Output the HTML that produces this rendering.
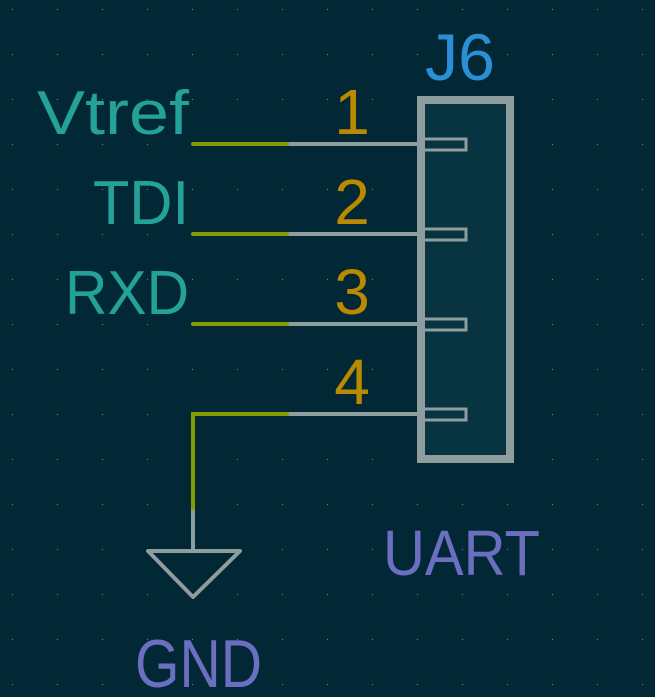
<!DOCTYPE html>
<html><head><meta charset="utf-8"><style>
html,body{margin:0;padding:0;background:#022835;}
svg{display:block}
text{font-family:"Liberation Sans",sans-serif;}
</style></head><body>
<svg width="655" height="697" viewBox="0 0 655 697" xmlns="http://www.w3.org/2000/svg">
<defs><pattern id="g" x="12" y="9" width="45" height="45" patternUnits="userSpaceOnUse"><rect x="0" y="0" width="1" height="1" fill="#6f8c94"/></pattern></defs>
<rect width="655" height="697" fill="#022835"/>
<rect width="655" height="697" fill="url(#g)"/>
<rect x="421" y="100" width="89" height="359" fill="#073440" stroke="#8e9e9e" stroke-width="8"/>
<g stroke-width="4" stroke-linecap="round" fill="none">
<g stroke="#8e9e9e">
<line x1="287" y1="144" x2="420" y2="144"/>
<line x1="287" y1="234" x2="420" y2="234"/>
<line x1="287" y1="324" x2="420" y2="324"/>
<line x1="287" y1="414" x2="420" y2="414"/>
<rect x="420" y="139" width="46" height="11" stroke-width="3"/>
<rect x="420" y="229" width="46" height="11" stroke-width="3"/>
<rect x="420" y="319" width="46" height="11" stroke-width="3"/>
<rect x="420" y="409" width="46" height="11" stroke-width="3"/>
<line x1="193" y1="508" x2="193" y2="551"/>
<polygon points="148,551 240,551 193,597" stroke-linejoin="round"/>
</g>
<g stroke="#849c00">
<line x1="193" y1="144" x2="287" y2="144"/>
<line x1="193" y1="234" x2="287" y2="234"/>
<line x1="193" y1="324" x2="287" y2="324"/>
<polyline points="287,414 193,414 193,508"/>
</g>
</g>
<g fill="#24a198" font-size="62" text-anchor="end">
<text x="189" y="134" textLength="152" lengthAdjust="spacingAndGlyphs">Vtref</text>
<text x="189" y="224" textLength="96" lengthAdjust="spacingAndGlyphs">TDI</text>
<text x="189" y="314" textLength="124" lengthAdjust="spacingAndGlyphs">RXD</text>
</g>
<g fill="#b98a00" font-size="64" text-anchor="middle">
<text x="352" y="134">1</text>
<text x="352" y="224">2</text>
<text x="352" y="314">3</text>
<text x="352" y="404">4</text>
</g>
<text x="425" y="80" font-size="66" fill="#2b8fd6" textLength="70" lengthAdjust="spacingAndGlyphs">J6</text>
<text x="383" y="575" font-size="64" fill="#6c6fc1" textLength="157" lengthAdjust="spacingAndGlyphs">UART</text>
<text x="135" y="687" font-size="68" fill="#6c6fc1" textLength="127" lengthAdjust="spacingAndGlyphs">GND</text>
</svg>
</body></html>
